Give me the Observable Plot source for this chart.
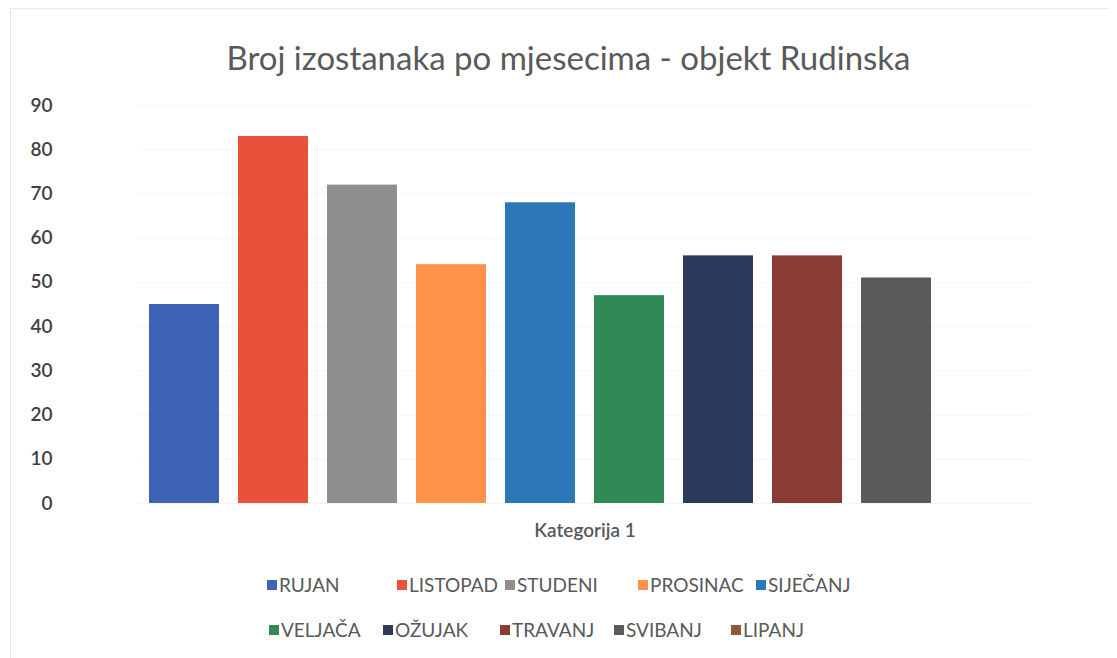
<!DOCTYPE html>
<html>
<head>
<meta charset="utf-8">
<script src="https://cdn.jsdelivr.net/npm/d3@7"></script>
<script src="https://cdn.jsdelivr.net/npm/@observablehq/plot@0.6"></script>
<style>
  html, body { margin: 0; padding: 0; background: #fff; }
  #wrap { position: relative; width: 1117px; height: 658px; overflow: hidden; font-family: Lato, "Open Sans", sans-serif; }
  #frame { position: absolute; left: 10px; top: 8px; width: 1098px; height: 660px; border-left: 1px solid #e4e4e4; border-top: 1px solid #ececec; }
  #title { position: absolute; left: 20px; width: 1097px; top: 36px; text-align: center; font-size: 33px; color: #595959; line-height: 42px; }
  #chart { position: absolute; left: 0; top: 90px; }
  .lrow { position: absolute; display: grid; font-size: 19px; color: #595959; line-height: 22px; }
  .item { display: flex; align-items: center; white-space: nowrap; }
  .sw { width: 10px; height: 10px; margin-right: 2px; flex: none; }
</style>
</head>
<body>
<div id="wrap">
  <div id="frame"></div>
  <div id="title">Broj izostanaka po mjesecima - objekt Rudinska</div>
  <div id="chart"></div>
  <div id="leg1" class="lrow" style="left:267px; top:574px; grid-template-columns:130px 108px 133px 118px auto;"></div>
  <div id="leg2" class="lrow" style="left:269px; top:619px; grid-template-columns:114px 117px 114px 117px auto;"></div>
</div>
<script>
const category = "Kategorija 1";
const months = ["RUJAN", "LISTOPAD", "STUDENI", "PROSINAC", "SIJEČANJ", "VELJAČA", "OŽUJAK", "TRAVANJ", "SVIBANJ", "LIPANJ"];
const values = [45, 83, 72, 54, 68, 47, 56, 56, 51, null];
const colors = ["#3E64B5", "#E9523A", "#8E8E8E", "#FE9248", "#2C77B8", "#2F8A55", "#2E3A5C", "#8A3B33", "#5A5A5A", "#8E5A3E"];
const yTicks = [0, 10, 20, 30, 40, 50, 60, 70, 80, 90];

const data = months.map((m, i) => ({category, month: m, value: values[i]}));

const plot = Plot.plot({
  width: 1117,
  height: 455,
  marginTop: 15,
  marginBottom: 42,
  marginLeft: 138,
  marginRight: 86,
  style: {fontFamily: "Lato, 'Open Sans', sans-serif", background: "transparent"},
  fx: {domain: [category], padding: 0, label: null},
  x: {domain: months, paddingInner: 0.216, paddingOuter: 0.108, axis: null},
  y: {domain: [0, 90], ticks: yTicks, label: null},
  color: {domain: months, range: colors},
  marks: [
    Plot.gridY(yTicks, {stroke: "#f5f5f5", strokeOpacity: 1}),
    Plot.axisY(yTicks, {tickSize: 0, tickPadding: 86, fontSize: 19, fontWeight: 600, fill: "#404040", label: null}),
    Plot.axisFx({anchor: "bottom", tickSize: 0, tickPadding: 20, fontSize: 19, fill: "#595959", label: null, fontWeight: 600}),
    Plot.barY(data.filter(d => d.value != null), {fx: "category", x: "month", y: "value", fill: "month"})
  ]
});
document.getElementById("chart").appendChild(plot);

const rows = [document.getElementById("leg1"), document.getElementById("leg2")];
months.forEach((m, i) => {
  const it = document.createElement("div");
  it.className = "item";
  const sw = document.createElement("span");
  sw.className = "sw";
  sw.style.background = colors[i];
  const tx = document.createElement("span");
  tx.textContent = m;
  it.appendChild(sw);
  it.appendChild(tx);
  rows[i < 5 ? 0 : 1].appendChild(it);
});
</script>
</body>
</html>
